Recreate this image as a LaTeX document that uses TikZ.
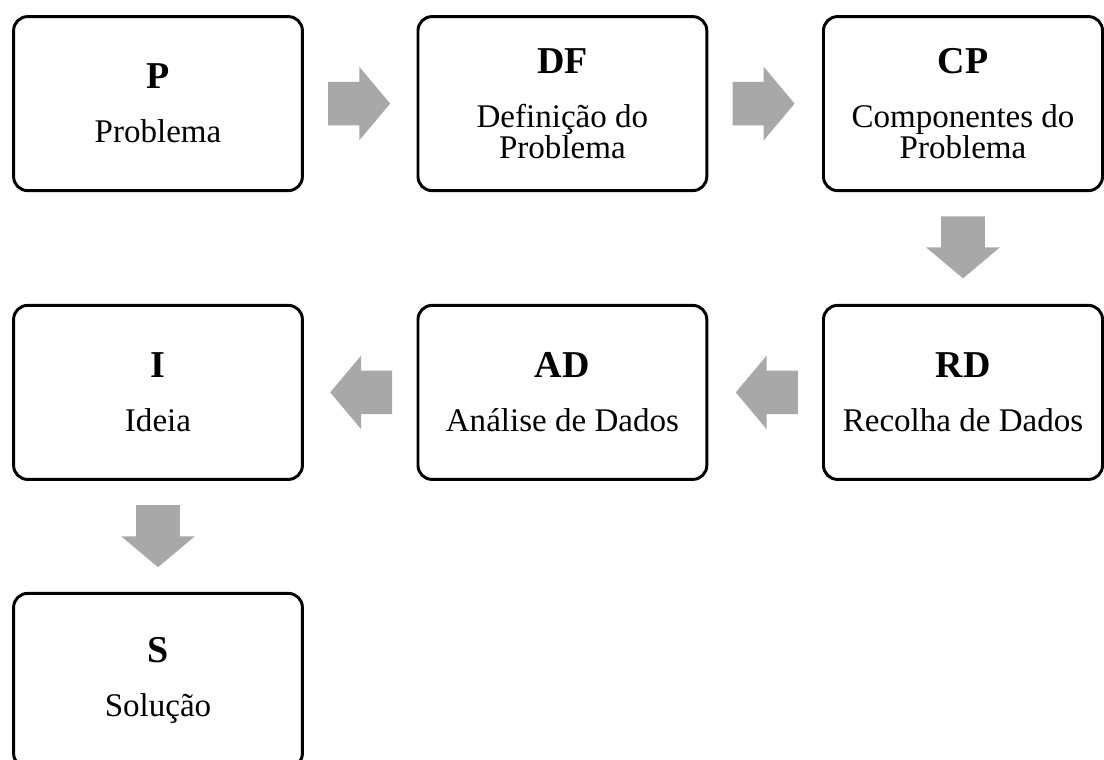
\documentclass[tikz,border=0pt]{standalone}
\usepackage{fontspec}
\setmainfont{Liberation Serif}
\usetikzlibrary{shapes.arrows}
\definecolor{ink}{HTML}{000000}
\definecolor{blockgray}{HTML}{A8A8A8}
\newcommand{\boxhead}{\fontsize{27pt}{27pt}\selectfont\bfseries}
\tikzset{
  box/.style={draw=ink,line width=2.1pt,rounded corners=3.5mm,fill=white,minimum width=72.2mm,minimum height=43.5mm,align=center,inner sep=2pt,font=\fontsize{23.5pt}{21.8pt}\selectfont},
  boxr/.style={box,minimum width=69.75mm},
  blk/.style={single arrow,fill=blockgray,draw=none,minimum height=15.5mm,minimum width=18.25mm,single arrow head extend=3.75mm,single arrow tip angle=100,inner xsep=0pt,inner ysep=5.375mm,anchor=tail},
  blkd/.style={blk,inner xsep=5.375mm,inner ysep=0pt,shape border rotate=270},
  blkl/.style={blk,shape border rotate=180},
}
\begin{document}
\begin{tikzpicture}[x=1mm,y=1mm]
  \useasboundingbox (0,0) rectangle (276,-190);
  % first row
  \node[box] (p) at (39.5,-25.9) {{\boxhead P}\\[5.8mm]Problema};
  \node[box] (df) at (140.6,-25.9) {{\boxhead DF}\\[5.8mm]Definição do\\Problema};
  \node[boxr] (cp) at (240.75,-25.9) {{\boxhead CP}\\[5.8mm]Componentes do\\Problema};
  % second row
  \node[boxr] (rd) at (240.75,-98.1) {{\boxhead RD}\\[5.8mm]Recolha de Dados};
  \node[box] (ad) at (140.6,-98.1) {{\boxhead AD}\\[5.8mm]Análise de Dados};
  \node[box] (i) at (39.5,-98.1) {{\boxhead I}\\[5.8mm]Ideia};
  % last one
  \node[box] (s) at (39.5,-170.1) {{\boxhead S}\\[5.8mm]Solução};
  % block arrows, tail 6mm off the box they leave
  \node[blk] (a1) at ([xshift=6mm]p.east) {};
  \node[blk] (a2) at ([xshift=6mm]df.east) {};
  \node[blkd] (a3) at ([yshift=-6mm]cp.south) {};
  \node[blkl] (a4) at ([xshift=-6mm]rd.west) {};
  \node[blkl] (a5) at ([xshift=-6mm]ad.west) {};
  \node[blkd] (a6) at ([yshift=-6mm]i.south) {};
\end{tikzpicture}
\end{document}
